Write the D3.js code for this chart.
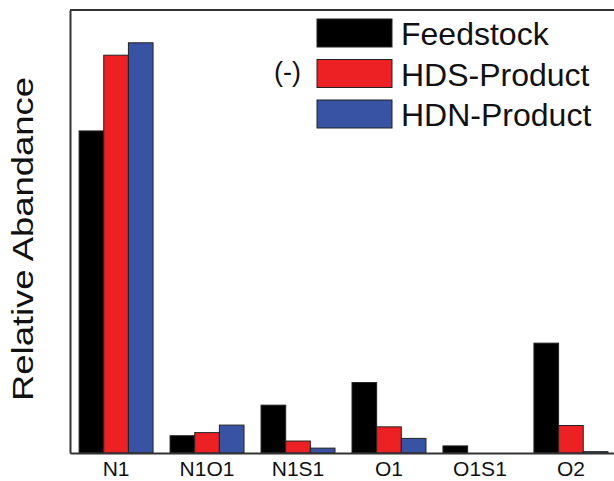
<!DOCTYPE html>
<html>
<head>
<meta charset="utf-8">
<script src="https://cdn.jsdelivr.net/npm/d3@7"></script>
<style>
  body { margin: 0; background: #fff; }
  svg { display: block; font-family: "Liberation Sans", Arial, sans-serif; }
</style>
</head>
<body>
<svg id="chart" width="614" height="481" viewBox="0 0 614 481"></svg>
<script>
// data (relative abundance, arbitrary 0-100 scale)
const categories = ["N1", "N1O1", "N1S1", "O1", "O1S1", "O2"];
const series = ["Feedstock", "HDS-Product", "HDN-Product"];
const feedstock = [72.7, 3.9, 10.8, 15.9, 1.6, 24.8];
const hdsProduct = [89.8, 4.6, 2.7, 5.9, 0, 6.2];
const hdnProduct = [92.6, 6.3, 1.1, 3.3, 0, 0.3];
const colors = ["#000000", "#ed2024", "#3953a4"];

const values = [feedstock, hdsProduct, hdnProduct];
const data = categories.map((c, i) => ({
    cat: c,
    vals: series.map((s, j) => ({ key: s, value: values[j][i], color: colors[j] }))
}));

const svg = d3.select("#chart");
const plotLeft = 70, plotTop = 10, plotBottom = 453, plotRight = 617;

const x0 = d3.scaleBand()
    .domain(categories)
    .range([plotLeft, plotRight])
    .paddingInner(0.187)
    .paddingOuter(0.1);

const x1 = d3.scaleBand()
    .domain(series)
    .range([0, x0.bandwidth()])
    .padding(0);

const y = d3.scaleLinear()
    .domain([0, 100])
    .range([plotBottom, plotTop]);

// bars
const groups = svg.append("g")
    .selectAll("g")
    .data(data)
    .enter().append("g")
    .attr("transform", d => "translate(" + x0(d.cat) + ",0)");

groups.selectAll("rect")
    .data(d => d.vals.filter(v => v.value > 0))
    .enter().append("rect")
    .attr("x", d => x1(d.key))
    .attr("y", d => y(d.value))
    .attr("width", x1.bandwidth())
    .attr("height", d => plotBottom - y(d.value))
    .attr("fill", d => d.color)
    .attr("stroke", "#222")
    .attr("stroke-width", 1);

// frame: left, top, bottom
const frame = "#333";
svg.append("g")
    .attr("transform", "translate(" + plotLeft + ",0)")
    .call(d3.axisLeft(y).tickValues([]).tickSizeOuter(0))
    .select(".domain").attr("stroke", frame).attr("stroke-width", 2);

svg.append("line")
    .attr("x1", plotLeft).attr("x2", 614)
    .attr("y1", plotTop).attr("y2", plotTop)
    .attr("stroke", frame).attr("stroke-width", 2);

const xAxis = svg.append("g")
    .attr("transform", "translate(0," + plotBottom + ")")
    .call(d3.axisBottom(x0).tickSize(0).tickSizeOuter(0).tickPadding(8));
xAxis.select(".domain").attr("stroke", frame).attr("stroke-width", 2);
xAxis.selectAll("text")
    .attr("font-size", 21)
    .attr("font-family", "Liberation Sans, Arial, sans-serif")
    .attr("fill", "#111")
    .attr("dy", "0.71em");

// y title
svg.append("text")
    .attr("transform", "translate(33,239) rotate(-90)")
    .attr("text-anchor", "middle")
    .attr("font-size", 30)
    .attr("textLength", 324)
    .attr("lengthAdjust", "spacingAndGlyphs")
    .attr("fill", "#111")
    .text("Relative Abandance");

// legend
const legend = svg.append("g")
    .selectAll("g")
    .data(series)
    .enter().append("g")
    .attr("transform", (d, i) => "translate(317," + (19 + i * 40.5) + ")");

legend.append("rect")
    .attr("width", 75)
    .attr("height", 28)
    .attr("fill", (d, i) => colors[i])
    .attr("stroke", "#222")
    .attr("stroke-width", 1);

legend.append("text")
    .attr("x", 84)
    .attr("y", 26)
    .attr("font-size", 32)
    .attr("fill", "#111")
    .text(d => d);

svg.append("text")
    .attr("x", 274)
    .attr("y", 81)
    .attr("font-size", 27)
    .attr("fill", "#111")
    .text("(-)");
</script>
</body>
</html>
